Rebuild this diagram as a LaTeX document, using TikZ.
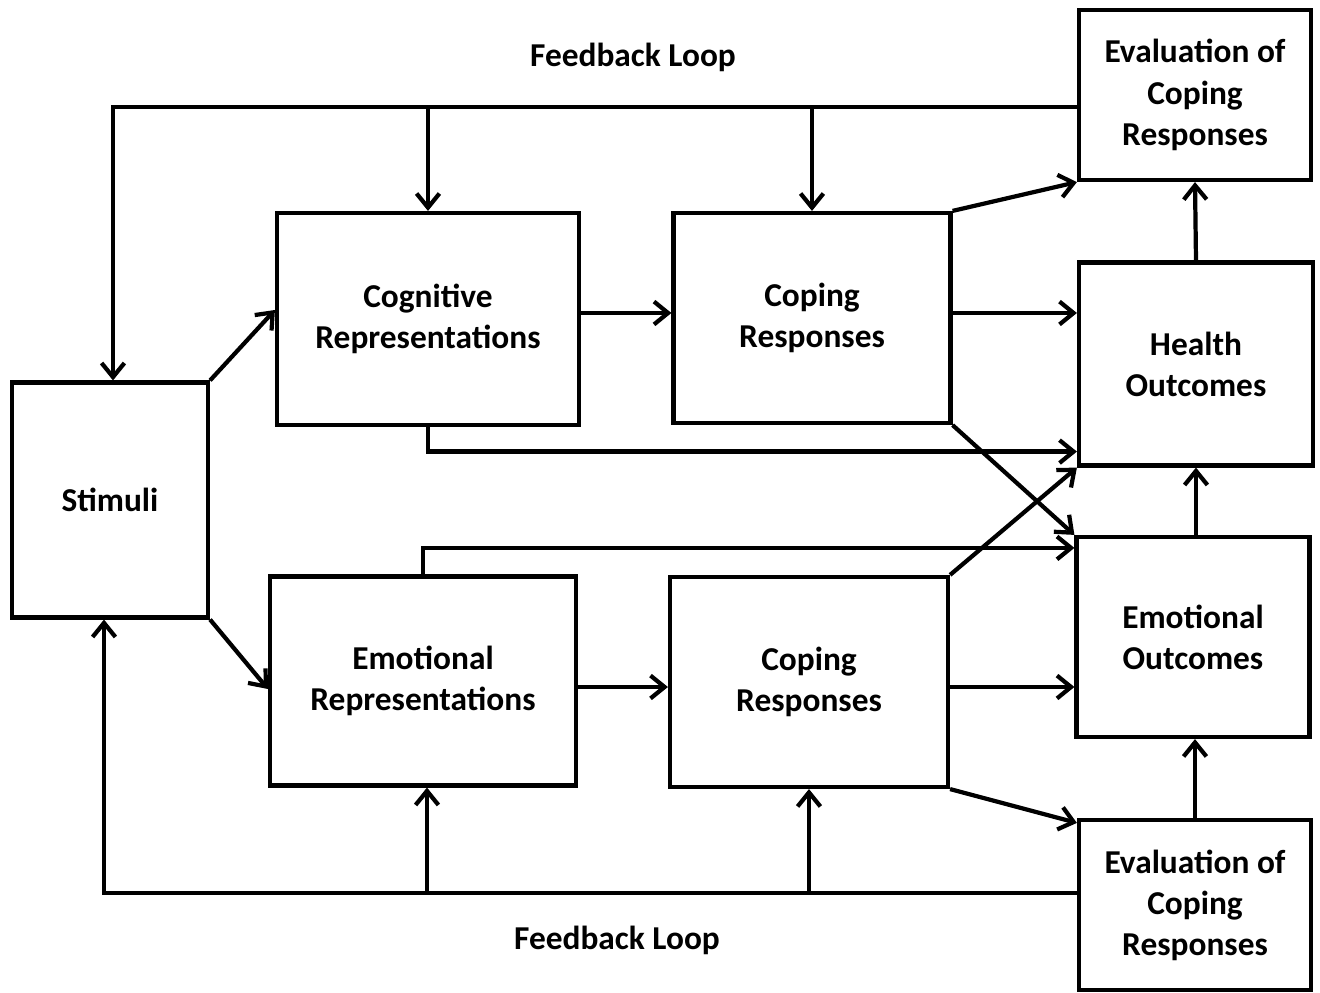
\documentclass[tikz,border=0pt]{standalone}
\usepackage{fontspec}
\setmainfont{Carlito}
\usepackage{tikz}
\usetikzlibrary{arrows.meta, positioning, calc}

\begin{document}
\begin{tikzpicture}[
  x=0.02cm, y=-0.02cm,
  box/.style={draw, line width=2.4pt, align=center, inner sep=4pt, font=\fontsize{19}{23.4}\selectfont\bfseries},
  arr/.style={-{Straight Barb[length=8pt, width=13pt]}, line width=2.4pt},
  loop/.style={font=\fontsize{19}{23.4}\selectfont\bfseries}
]
  \useasboundingbox (0,0) rectangle (1320,993);

  % Boxes
  \node[box, minimum width=3.92cm, minimum height=4.7cm] (stim) at (110,500) {Stimuli};
  \node[box, minimum width=6.04cm, minimum height=4.24cm] (cog) at (428,319) {Cognitive\\Representations};
  \node[box, minimum width=6.12cm, minimum height=4.18cm] (emo) at (423,681) {Emotional\\Representations};
  \node[box, minimum width=5.54cm, minimum height=4.2cm] (copetop) at (812,318) {Coping\\Responses};
  \node[box, minimum width=5.56cm, minimum height=4.2cm] (copebot) at (809,682) {Coping\\Responses};
  \node[box, minimum width=4.64cm, minimum height=3.4cm] (evaltop) at (1195,95) {Evaluation of\\Coping\\Responses};
  \node[box, minimum width=4.68cm, minimum height=4.06cm] (health) at (1196,364) {Health\\Outcomes};
  \node[box, minimum width=4.66cm, minimum height=4.0cm] (emoout) at (1193,637) {Emotional\\Outcomes};
  \node[box, minimum width=4.64cm, minimum height=3.4cm] (evalbot) at (1195,905) {Evaluation of\\Coping\\Responses};

  % Labels
  \node[loop] (fbtoplabel) at (633,57) {Feedback Loop};
  \node[loop] (fbbotlabel) at (617,940) {Feedback Loop};

  % Stimuli to representations
  \draw[arr] (stim.north east) -- ($(cog.west)+(0,-9)$);
  \draw[arr] (stim.south east) -- ($(emo.west)+(0,8)$);

  % Representations to coping
  \draw[arr] ($(cog.east)+(0,-6)$) -- ($(copetop.west)+(0,-5)$);
  \draw[arr] ($(emo.east)+(0,6)$) -- ($(copebot.west)+(0,5)$);

  % Coping to outcomes
  \draw[arr] (copetop.north east) -- (evaltop.south west);
  \draw[arr] ($(copetop.east)+(0,-5)$) -- ($(copetop.east -| health.west)+(0,-5)$);
  \draw[arr] (copetop.south east) -- (emoout.north west);
  \draw[arr] (copebot.north east) -- (health.south west);
  \draw[arr] ($(copebot.east)+(0,5)$) -- ($(copebot.east -| emoout.west)+(0,5)$);
  \draw[arr] (copebot.south east) -- ($(evalbot.north west)+(0,5)$);
  \draw[arr] (cog.south) |- ($(health.south west)+(0,-16)$);
  \draw[arr] (emo.north) |- ($(emoout.north west)+(0,13)$);

  % Right column
  \draw[arr] (health.north) -- (evaltop.south);
  \draw[arr] (health.south |- emoout.north) -- (health.south);
  \draw[arr] (evalbot.north) -- (evalbot.north |- emoout.south);

  % Feedback loops
  \coordinate (fbt) at ($(evaltop.west)+(0,12)$);
  \coordinate (fbb) at ($(evalbot.west)+(0,-12)$);
  \draw[arr] (fbt) -| ($(stim.north)+(3,0)$);
  \draw[arr] (cog.north |- fbt) -- (cog.north);
  \draw[arr] (copetop.north |- fbt) -- (copetop.north);
  \draw[arr] (fbb) -| ($(stim.south)+(-6,0)$);
  \draw[arr] ($(emo.south |- fbb)+(4,0)$) -- ($(emo.south)+(4,0)$);
  \draw[arr] (copebot.south |- fbb) -- (copebot.south);
\end{tikzpicture}
\end{document}
